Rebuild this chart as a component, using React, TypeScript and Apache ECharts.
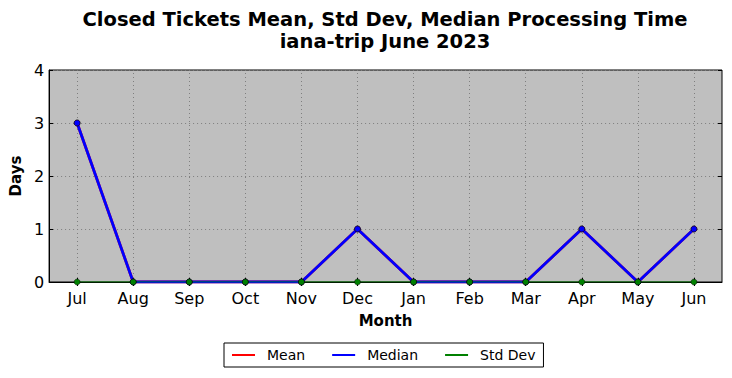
import React, { useEffect, useRef } from "react";
import * as echarts from "echarts";

const months = ["Jul", "Aug", "Sep", "Oct", "Nov", "Dec", "Jan", "Feb", "Mar", "Apr", "May", "Jun"];
const meanValues = [3, 0, 0, 0, 0, 1, 0, 0, 0, 1, 0, 1];
const medianValues = [3, 0, 0, 0, 0, 1, 0, 0, 0, 1, 0, 1];
const stdDevValues = [0, 0, 0, 0, 0, 0, 0, 0, 0, 0, 0, 0];
const yTicks = [0, 1, 2, 3, 4];

const FONT = "DejaVu Sans";

export default function App() {
  const ref = useRef<HTMLDivElement>(null);
  useEffect(() => {
    if (!ref.current) return;
    const chart = echarts.init(ref.current, null, { renderer: "svg" });
    const grid = { left: 46, right: 10, top: 70, bottom: 96 };
    const gridStyle = { color: "#7f7f7f", type: [1, 3] as any, width: 1 };
    chart.setOption({
      animation: false,
      backgroundColor: "#ffffff",
      textStyle: { fontFamily: FONT },
      title: {
        text: "Closed Tickets Mean, Std Dev, Median Processing Time\niana-trip June 2023",
        left: 380,
        top: 3,
        textAlign: "center",
        textStyle: { fontFamily: FONT, fontWeight: "bold", fontSize: 19.5, lineHeight: 22, color: "#000" },
      },
      grid: { ...grid, show: true, backgroundColor: "#bfbfbf", borderColor: "#000", borderWidth: 1 },
      legend: {
        data: [
          { name: "Mean", icon: "rect" },
          { name: "Median", icon: "rect" },
          { name: "Std Dev", icon: "rect" },
        ],
        left: 224,
        top: 343,
        orient: "horizontal",
        itemWidth: 23,
        itemHeight: 2,
        itemGap: 27,
        padding: [5, 8, 5, 8],
        borderColor: "#000",
        borderWidth: 1,
        borderRadius: 0,
        itemStyle: { borderWidth: 0 },
        textStyle: { fontFamily: FONT, fontSize: 14, color: "#000", padding: [0, 0, 0, 7] },
      },
      xAxis: [
        {
          type: "category",
          data: months,
          boundaryGap: true,
          name: "Month",
          nameLocation: "middle",
          nameGap: 31,
          nameTextStyle: { fontFamily: FONT, fontWeight: "bold", fontSize: 15, color: "#000" },
          axisLine: { show: true, lineStyle: { color: "#000" } },
          axisTick: { show: true, inside: true, alignWithLabel: true, length: 4, lineStyle: { color: "#000" } },
          axisLabel: { fontFamily: FONT, fontSize: 16, color: "#000", margin: 8 },
          splitLine: { show: false },
        },
        {
          type: "category",
          data: months,
          position: "top",
          boundaryGap: true,
          axisLine: { show: false },
          axisTick: { show: true, inside: true, alignWithLabel: true, length: 4, lineStyle: { color: "#000" } },
          axisLabel: { show: false },
          splitLine: { show: false },
        },
      ],
      yAxis: [
        {
          type: "value",
          min: 0,
          max: 4,
          interval: 1,
          name: "Days",
          nameLocation: "middle",
          nameGap: 23,
          nameRotate: 90,
          nameTextStyle: { fontFamily: FONT, fontWeight: "bold", fontSize: 15, color: "#000" },
          axisLine: { show: true, lineStyle: { color: "#000" } },
          axisTick: { show: true, inside: true, length: 4, lineStyle: { color: "#000" } },
          axisLabel: { fontFamily: FONT, fontSize: 16, color: "#000", margin: 5, formatter: (v: number) => (yTicks.includes(v) ? String(v) : "") },
          splitLine: { show: true, lineStyle: gridStyle },
        },
        {
          type: "value",
          min: 0,
          max: 4,
          interval: 1,
          position: "right",
          axisLine: { show: false },
          axisTick: { show: true, inside: true, length: 4, lineStyle: { color: "#000" } },
          axisLabel: { show: false },
          splitLine: { show: false },
        },
      ],
      series: [
        {
          name: "Mean",
          type: "line",
          data: meanValues,
          color: "#ff0000",
          symbol: "circle",
          symbolSize: 6,
          lineStyle: { color: "#ff0000", width: 2.8 },
          itemStyle: { color: "#ff0000", borderColor: "#000", borderWidth: 0.5 },
          markLine: {
            silent: true,
            symbol: "none",
            label: { show: false },
            lineStyle: gridStyle,
            z: 1,
            data: months.map((m) => ({ xAxis: m })),
          },
        },
        {
          name: "Median",
          type: "line",
          data: medianValues,
          color: "#0000ff",
          symbol: "circle",
          symbolSize: 6,
          lineStyle: { color: "#0000ff", width: 2.8 },
          itemStyle: { color: "#0000ff", borderColor: "#000", borderWidth: 0.5 },
        },
        {
          name: "Std Dev",
          type: "line",
          data: stdDevValues,
          color: "#008000",
          symbol: "circle",
          symbolSize: 6,
          lineStyle: { color: "#008000", width: 1 },
          itemStyle: { color: "#008000", borderColor: "#000", borderWidth: 0.5 },
        },
      ],
    });
    return () => chart.dispose();
  }, []);
  return <div ref={ref} style={{ width: 732, height: 378, position: "absolute", left: 0, top: 0 }} />;
}
